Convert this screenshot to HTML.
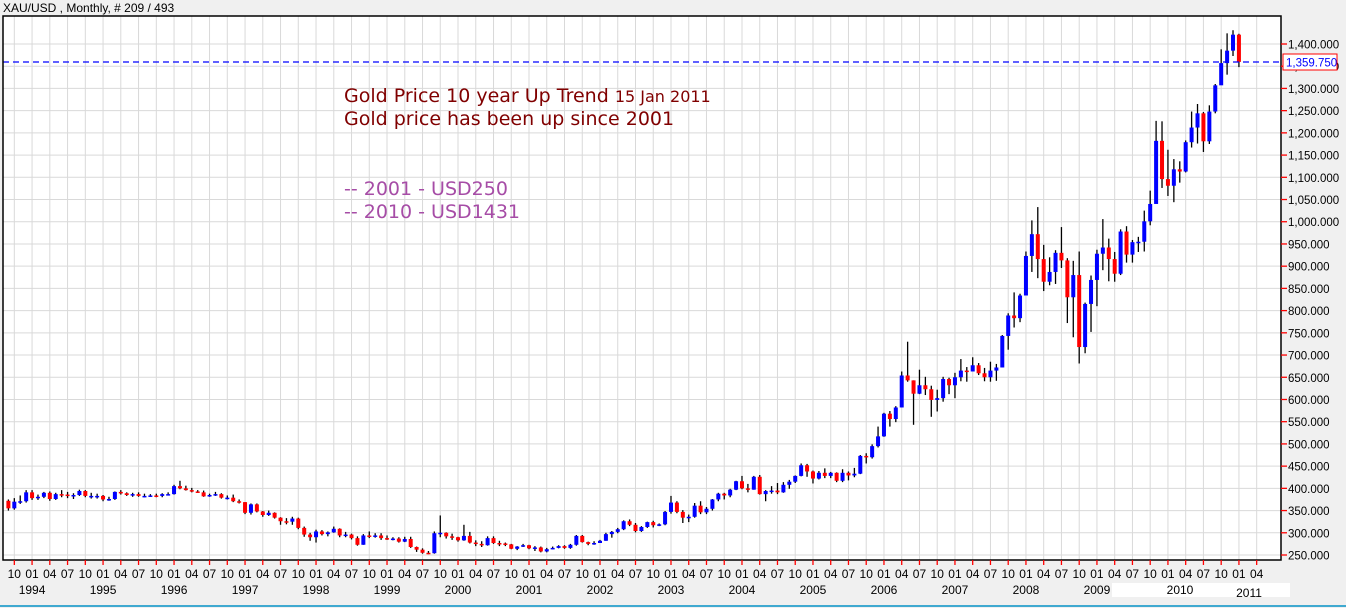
<!DOCTYPE html>
<html><head><meta charset="utf-8"><style>
html,body{margin:0;padding:0;background:#f0f0f0;width:1346px;height:608px;overflow:hidden}
svg{display:block;font-family:"Liberation Sans",Arial,sans-serif}
</style></head><body>
<svg id="chart" width="1346" height="608">
<rect x="0" y="0" width="1346" height="608" fill="#f0f0f0"/>
<text x="3" y="12" font-size="12" fill="#000">XAU/USD , Monthly, # 209 / 493</text>
<rect x="3" y="16" width="1278" height="544" fill="#fff"/>
<g id="grid"></g>
<g id="candles"></g>
<line x1="3" y1="62" x2="1281" y2="62" stroke="#0000ff" stroke-width="1.3" stroke-dasharray="6,4"/>
<rect x="3" y="16" width="1278" height="544" fill="none" stroke="#000" stroke-width="1.5"/>
<rect x="1112" y="583" width="178" height="14" fill="#fff"/>
<g id="yaxis"></g>
<g id="xaxis"></g>
<rect x="1283" y="54" width="54" height="16" fill="#fff" stroke="#ff0000" stroke-width="1"/>
<text x="1286" y="66.5" font-size="11.5" fill="#0000ff">1,359.750</text>
<g font-family="'DejaVu Sans',Verdana,sans-serif">
<text x="344" y="102" font-size="19" fill="#800000">Gold Price 10 year Up Trend <tspan font-size="16">15 Jan 2011</tspan></text>
<text x="344" y="125" font-size="19" fill="#800000">Gold price has been up since 2001</text>
<text x="344" y="195" font-size="19" fill="#a64ca6">-- 2001 - USD250</text>
<text x="344" y="218" font-size="19" fill="#a64ca6">-- 2010 - USD1431</text>
</g>
<line x1="0" y1="606" x2="1346" y2="606" stroke="#3fa9d0" stroke-width="2"/>
</svg>
<script>
// monthly candles Sep 1993 .. Jan 2011
const firstOpen = 372;
const closes = [355,370,371,391,
378,381,390,376,387,386,384,385,394,383,383,383,
375,376,392,389,385,387,383,383,384,383,387,387,
405,400,396,393,391,382,385,387,379,379,371,369,
345,364,348,340,345,334,326,325,332,311,296,290,
303,297,301,309,294,296,288,273,294,292,294,288,
287,287,280,286,268,262,255,254,299,300,292,290,
283,293,278,275,272,288,277,276,274,264,269,272,
265,267,258,263,266,270,266,273,293,279,275,277,
282,297,302,308,326,318,304,313,324,317,319,347,
368,347,334,336,361,346,354,375,388,384,397,416,
400,397,426,387,394,395,391,408,415,428,452,438,
422,435,428,435,417,435,429,433,473,470,495,517,
568,556,582,654,643,613,632,623,599,603,646,632,
650,665,663,677,659,650,665,672,743,789,783,834,
923,972,916,865,887,930,913,830,880,718,815,869,
928,942,916,883,978,926,954,955,1001,1040,1182,1096,
1081,1118,1113,1179,1212,1244,1181,1248,1307,1357,1385,1421,
1359.75];
const highs = [375,378,384,396,
396,386,392,393,390,396,392,389,397,396,390,388,
385,381,393,396,391,390,391,388,387,388,389,391,
408,417,406,401,396,395,388,392,389,384,386,375,
369,366,366,349,350,346,335,333,336,334,314,300,
307,306,303,314,310,302,298,292,297,303,299,299,
294,290,290,291,291,269,265,259,303,339,301,298,
291,318,302,283,281,292,292,282,278,275,270,275,
273,270,269,266,269,272,272,275,295,295,280,281,
284,300,304,311,328,330,322,315,325,327,321,349,
383,371,351,341,367,371,358,376,390,390,399,417,
428,410,428,430,396,405,412,414,419,429,456,455,
440,439,445,437,436,443,438,446,475,479,499,539,
570,574,585,663,730,643,667,651,631,622,651,649,
660,691,673,695,682,671,685,680,745,794,841,838,
933,1003,1033,948,920,936,988,918,912,933,818,879,
937,1006,962,932,983,990,959,966,1025,1070,1227,1226,
1162,1141,1136,1183,1248,1265,1247,1262,1310,1388,1424,1431,
1423];
const lows = [350,352,365,368,
374,374,378,372,374,380,378,376,383,380,377,377,
371,372,374,386,383,381,381,380,381,380,380,384,
386,398,395,391,390,381,381,383,377,375,369,366,
342,341,346,336,338,332,318,319,318,308,291,282,
278,294,292,300,290,290,285,271,273,288,289,284,
284,283,278,279,266,257,253,252,253,290,287,284,
280,282,276,270,268,271,275,270,270,263,261,268,
263,259,256,256,263,265,264,264,271,278,272,273,
277,282,289,299,306,315,301,302,311,312,315,317,
343,344,322,324,334,342,342,350,371,375,380,396,
398,391,397,386,371,388,387,390,399,412,427,426,
411,420,423,423,414,414,418,425,432,456,467,492,
516,539,549,582,640,543,612,610,561,573,595,612,
603,641,640,663,655,641,640,642,672,712,762,774,
844,887,873,844,857,860,896,772,740,681,704,752,
810,891,866,865,880,908,908,932,933,992,1041,1076,
1058,1044,1088,1111,1167,1176,1157,1175,1244,1314,1331,1373,
1348];
const yTicks = [250,300,350,400,450,500,550,600,650,700,750,800,850,900,950,1000,1050,1100,1150,1200,1250,1300,1350,1400];
const monthLabels = ["10","01","04","07"];
const years = [1994,1995,1996,1997,1998,1999,2000,2001,2002,2003,2004,2005,2006,2007,2008,2009,2010,2011];

const NS="http://www.w3.org/2000/svg";
function yScale(v){return 555-(v-250)*(511/1150);}
function xScale(i){return 8.4+i*5.916;} // i=0 -> Sep 1993
function mk(tag,attrs,parent){const e=document.createElementNS(NS,tag);for(const k in attrs)e.setAttribute(k,attrs[k]);parent.appendChild(e);return e;}

const grid=document.getElementById('grid'),cg=document.getElementById('candles'),ya=document.getElementById('yaxis'),xa=document.getElementById('xaxis');
yTicks.forEach(v=>{
  const y=yScale(v);
  const g=mk('line',{x1:3,x2:1281,y1:y,y2:y,stroke:'#d9d9d9','stroke-width':1},grid);
  
  
  const t=mk('line',{x1:1281,x2:1287,y1:y,y2:y,stroke:'#ff0000','stroke-width':1.3},ya);
  
  
  const l=mk('text',{x:1288,y:y+4.5,'font-size':11.5,fill:'#000'},ya);
  l.textContent=v.toLocaleString('en-US')+'.000';
  
  
});
for(let q=0;q<71;q++){
  const i=1+q*3, x=xScale(i);
  const g=mk('line',{x1:x,x2:x,y1:16,y2:560,stroke:'#d9d9d9','stroke-width':1},grid);
  
  
  const t=mk('line',{x1:x,x2:x,y1:560,y2:565,stroke:'#ff0000','stroke-width':1.3},xa);
  
  
  const l=mk('text',{x:x,y:578,'font-size':12,fill:'#000','text-anchor':'middle'},xa);
  l.textContent=monthLabels[q%4];
  
  
}
years.forEach((yr,k)=>{
  const x=yr===2010?1180:(yr===2011?1249:xScale(4+k*12));
  const l=mk('text',{x:x,y:yr===2011?597:594,'font-size':12,fill:'#000','text-anchor':'middle'},xa);
  l.textContent=yr;
  
  
});
closes.forEach((c,i)=>{
  const o=i===0?firstOpen:closes[i-1];
  const x=xScale(i);
  const w=mk('line',{x1:x,x2:x,y1:yScale(highs[i]),y2:yScale(lows[i]),stroke:'#000','stroke-width':1.3},cg);
  
  
  const top=yScale(Math.max(o,c)),bot=yScale(Math.min(o,c));
  const b=mk('rect',{x:x-2,y:top,width:4,height:Math.max(1.5,bot-top),fill:c>=o?'#0000ff':'#ff0000'},cg);
  
  
});
</script>
</body></html>
